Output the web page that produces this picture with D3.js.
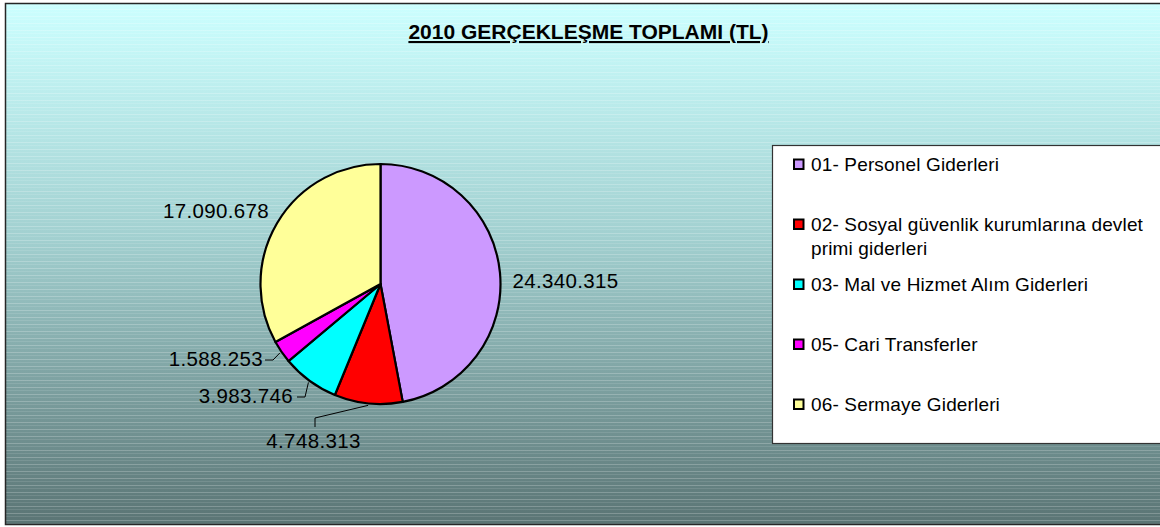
<!DOCTYPE html>
<html>
<head>
<meta charset="utf-8">
<style>
  body { margin: 0; background: #ffffff; }
  text { font-family: "Liberation Sans", Arial, sans-serif; }
</style>
</head>
<body>
<script src="https://d3js.org/d3.v7.min.js"></script>
<script>
// chart data
var categories = ["01- Personel Giderleri",
                  "02- Sosyal güvenlik kurumlarına devlet primi giderleri",
                  "03- Mal ve Hizmet Alım Giderleri",
                  "05- Cari Transferler",
                  "06- Sermaye Giderleri"];
var legendLines = [["01- Personel Giderleri"],
                   ["02- Sosyal güvenlik kurumlarına devlet", "primi giderleri"],
                   ["03- Mal ve Hizmet Alım Giderleri"],
                   ["05- Cari Transferler"],
                   ["06- Sermaye Giderleri"]];
var values = [24340315, 4748313, 3983746, 1588253, 17090678];
var valueLabels = ["24.340.315", "4.748.313", "3.983.746", "1.588.253", "17.090.678"];
var sliceColors = ["#cc99ff", "#ff0000", "#00ffff", "#ff00ff", "#ffff99"];

// where each value label sits, relative to the pie centre (Excel moved them around)
var labelPlace = [
  { x: 132, y: 4, anchor: "start", leader: null },
  { x: -67, y: 164, anchor: "middle", leader: [[-65.5, 134], [-65.5, 143]] },
  { x: -87.5, y: 119, anchor: "end", leader: [[-75.5, 113], [-83.5, 113]] },
  { x: -117.5, y: 82, anchor: "end", leader: [[-107.5, 76], [-115.5, 76]] },
  { x: -111.5, y: -66, anchor: "end", leader: null }
];

var W = 1160, H = 527;
var svg = d3.select("body").append("svg")
            .attr("width", W)
            .attr("height", H);

var defs = svg.append("defs");
var grad = defs.append("linearGradient")
               .attr("id", "bg")
               .attr("x1", 0).attr("y1", 0).attr("x2", 0).attr("y2", 1);
grad.append("stop").attr("offset", "0%").attr("stop-color", "#ccffff");
grad.append("stop").attr("offset", "45%").attr("stop-color", "#a2d0d0");
grad.append("stop").attr("offset", "100%").attr("stop-color", "#5a7474");

// the banding lines that the old gradient fill shows
var stripes = defs.append("pattern")
                  .attr("id", "stripes")
                  .attr("patternUnits", "userSpaceOnUse")
                  .attr("width", 8).attr("height", 7);
stripes.append("rect").attr("x", 0).attr("y", 2).attr("width", 8).attr("height", 1)
       .attr("fill", "#ffffff").attr("opacity", 0.22);
stripes.append("rect").attr("x", 0).attr("y", 5).attr("width", 8).attr("height", 1)
       .attr("fill", "#ffffff").attr("opacity", 0.1);

// chart area
svg.append("rect")
   .attr("x", 5.5).attr("y", 3.5)
   .attr("width", W).attr("height", 521)
   .attr("fill", "url(#bg)");
svg.append("rect")
   .attr("x", 5.5).attr("y", 3.5)
   .attr("width", W).attr("height", 521)
   .attr("fill", "url(#stripes)");
svg.append("rect")
   .attr("x", 5.5).attr("y", 3.5)
   .attr("width", W).attr("height", 521)
   .attr("fill", "none")
   .attr("stroke", "#262626")
   .attr("stroke-width", 1.5);

// title
svg.append("text")
   .attr("x", 588.5).attr("y", 39)
   .attr("text-anchor", "middle")
   .style("font-size", "21px")
   .style("font-weight", "bold")
   .style("text-decoration", "underline")
   .attr("fill", "#000")
   .text("2010 GERÇEKLEŞME TOPLAMI (TL)");

// pie
var cx = 380.5, cy = 284, r = 120;
var pie = d3.pie().sort(null).value(function (d) { return d; });
var arcs = pie(values);
var arc = d3.arc().innerRadius(0).outerRadius(r);
var edge = d3.arc().innerRadius(r + 2).outerRadius(r + 2);

var g = svg.append("g").attr("transform", "translate(" + cx + "," + cy + ")");

g.selectAll("path.slice")
 .data(arcs)
 .enter()
 .append("path")
 .attr("class", "slice")
 .attr("d", arc)
 .attr("fill", function (d, i) { return sliceColors[i]; })
 .attr("stroke", "#000")
 .attr("stroke-width", 2.2)
 .attr("stroke-linejoin", "round");

// leader lines
g.selectAll("polyline.leader")
 .data(arcs.filter(function (d, i) { return labelPlace[i].leader; }))
 .enter()
 .append("polyline")
 .attr("class", "leader")
 .attr("points", function (d) {
     var p = labelPlace[d.index].leader;
     return [edge.centroid(d), p[0], p[1]].map(function (q) { return q.join(","); }).join(" ");
 })
 .attr("fill", "none")
 .attr("stroke", "#000")
 .attr("stroke-width", 1);

g.selectAll("text.val")
 .data(arcs)
 .enter()
 .append("text")
 .attr("class", "val")
 .attr("x", function (d, i) { return labelPlace[i].x; })
 .attr("y", function (d, i) { return labelPlace[i].y; })
 .attr("text-anchor", function (d, i) { return labelPlace[i].anchor; })
 .style("font-size", "20.5px")
 .style("letter-spacing", "0.35px")
 .attr("fill", "#000")
 .text(function (d, i) { return valueLabels[i]; });

// legend
var legend = svg.append("g");
legend.append("rect")
      .attr("x", 772.5).attr("y", 145.5)
      .attr("width", 400).attr("height", 298)
      .attr("fill", "#ffffff")
      .attr("stroke", "#333")
      .attr("stroke-width", 1.2);

var rowY = d3.scalePoint().domain(d3.range(categories.length)).range([171, 411]);

var items = legend.selectAll("g.item")
                  .data(categories)
                  .enter()
                  .append("g")
                  .attr("class", "item")
                  .attr("transform", function (d, i) { return "translate(0," + rowY(i) + ")"; });

items.append("rect")
     .attr("x", 794).attr("y", -11.5)
     .attr("width", 9.5).attr("height", 9.5)
     .attr("fill", function (d, i) { return sliceColors[i]; })
     .attr("stroke", "#000")
     .attr("stroke-width", 2);

items.append("text")
     .attr("x", 811)
     .attr("y", 0)
     .style("font-size", "19px")
     .style("letter-spacing", "0.15px")
     .attr("fill", "#000")
     .each(function (d, i) {
         var t = d3.select(this);
         legendLines[i].forEach(function (line, k) {
             t.append("tspan").attr("x", 811).attr("dy", k === 0 ? 0 : 23.5).text(line);
         });
     });
</script>
</body>
</html>
